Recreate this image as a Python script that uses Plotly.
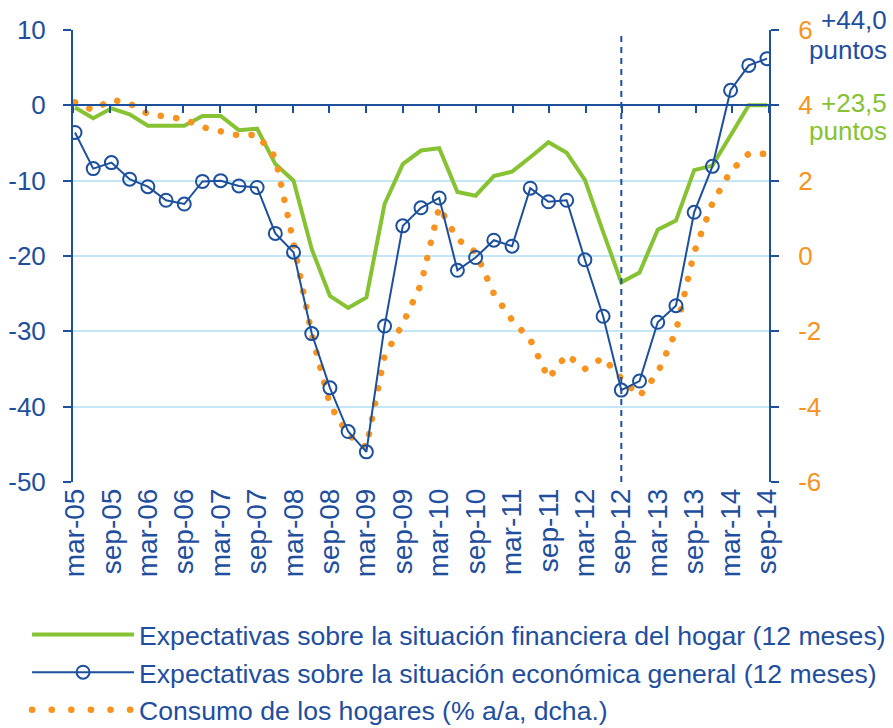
import plotly.graph_objects as go

quarters = [
    "mar-05", "jun-05", "sep-05", "dic-05", "mar-06", "jun-06", "sep-06", "dic-06",
    "mar-07", "jun-07", "sep-07", "dic-07", "mar-08", "jun-08", "sep-08", "dic-08",
    "mar-09", "jun-09", "sep-09", "dic-09", "mar-10", "jun-10", "sep-10", "dic-10",
    "mar-11", "jun-11", "sep-11", "dic-11", "mar-12", "jun-12", "sep-12", "dic-12",
    "mar-13", "jun-13", "sep-13", "dic-13", "mar-14", "jun-14", "sep-14",
]

financiera_hogar = [
    -0.3, -1.7, -0.4, -1.2, -2.7, -2.7, -2.7, -1.4, -1.4, -3.3,
    -3.1, -7.8, -10.0, -19.1, -25.3, -26.9, -25.5, -13.1, -7.8, -6.0,
    -5.7, -11.5, -12.0, -9.4, -8.8, -6.9, -4.9, -6.3, -9.9, -16.8,
    -23.5, -22.2, -16.5, -15.3, -8.6, -8.0, -4.1, 0.0, 0.0,
]

economica_general = [
    -3.6, -8.4, -7.6, -9.8, -10.8, -12.6, -13.1, -10.1, -10.0, -10.7,
    -10.9, -17.0, -19.5, -30.3, -37.5, -43.3, -46.0, -29.3, -16.0, -13.6,
    -12.3, -21.9, -20.2, -17.9, -18.7, -11.0, -12.8, -12.6, -20.5, -28.0,
    -37.8, -36.6, -28.8, -26.6, -14.2, -8.1, 2.0, 5.3, 6.2,
]

consumo_hogares = [
    4.08, 3.87, 4.15, 4.05, 3.77, 3.72, 3.63, 3.42, 3.30, 3.20,
    3.22, 2.62, 0.35, -2.08, -3.95, -4.75, -5.08, -2.65, -1.80, -0.75,
    1.30, 0.45, 0.10, -1.00, -1.70, -2.22, -3.25, -2.62, -3.00, -2.70,
    -3.25, -3.72, -3.10, -2.00, 0.10, 1.40, 2.25, 2.72, 2.71,
]

shown_labels = [q for q in quarters if q.startswith("mar") or q.startswith("sep")]
marker_quarter = "sep-12"

left_ticks = [10, 0, -10, -20, -30, -40, -50]
right_ticks = [6, 4, 2, 0, -2, -4, -6]

BLUE = "#1C4F9C"
TEXT = "#1F4E9E"
GREEN = "#86C232"
ORANGE = "#F7931E"
GRID = "#C4E7F7"
FONT = "Liberation Sans, Arial, sans-serif"

idx = list(range(len(quarters)))
x_lo, x_hi = -0.11, len(quarters) - 1 + 0.11
n_tick_int = 19
minor_ticks = [x_lo + k * (x_hi - x_lo) / n_tick_int for k in range(n_tick_int + 1)]

fig = go.Figure()
fig.add_trace(go.Scatter(
    x=idx, y=financiera_hogar, mode="lines",
    line=dict(color=GREEN, width=4),
    name="Expectativas sobre la situación financiera del hogar (12 meses)",
    xaxis="x", yaxis="y",
))
fig.add_trace(go.Scatter(
    x=idx, y=economica_general, mode="lines+markers",
    line=dict(color=BLUE, width=2),
    marker=dict(symbol="circle-open", size=13, color=BLUE, line=dict(width=2, color=BLUE)),
    name="Expectativas sobre la situación económica general (12 meses)",
    xaxis="x2", yaxis="y",
))
fig.add_trace(go.Scatter(
    x=idx, y=consumo_hogares, mode="lines",
    line=dict(color=ORANGE, width=6.5, dash="6px,9.5px"),
    name="Consumo de los hogares (% a/a, dcha.)",
    xaxis="x", yaxis="y2",
))

sep12 = quarters.index(marker_quarter)
fig.add_shape(type="line", xref="x", yref="y", x0=sep12, x1=sep12, y0=-50, y1=9.4,
              line=dict(color=BLUE, width=2, dash="6px,5px"))

fig.update_layout(
    width=893, height=728,
    margin=dict(l=73, r=124, t=30, b=246, pad=0, autoexpand=False),
    paper_bgcolor="white", plot_bgcolor="white",
    font=dict(family=FONT, color=TEXT, size=26),
    showlegend=True,
    legend=dict(
        x=-0.066, y=-0.285, xanchor="left", yanchor="top",
        font=dict(family=FONT, size=26.6, color=TEXT),
        bgcolor="rgba(0,0,0,0)", itemwidth=102, tracegroupgap=0,
    ),
    xaxis=dict(
        range=[x_lo, x_hi], tickmode="array",
        tickvals=[quarters.index(q) for q in shown_labels], ticktext=shown_labels,
        tickangle=-90, tickfont=dict(size=28, color=TEXT, family=FONT),
        showline=False, showgrid=False, zeroline=False, ticks="",
        ticklabelstandoff=0, automargin=False,
    ),
    xaxis2=dict(
        overlaying="x", anchor="free", position=50 / 60,
        range=[x_lo, x_hi], tickmode="array", tickvals=minor_ticks,
        ticks="outside", ticklen=7, tickwidth=2, tickcolor=BLUE,
        showticklabels=False, showline=True, linecolor=BLUE, linewidth=2,
        showgrid=False, zeroline=False, automargin=False,
    ),
    yaxis=dict(
        range=[-50, 10], tickmode="array", tickvals=left_ticks,
        ticktext=[str(v) for v in left_ticks],
        showgrid=True, gridcolor=GRID, gridwidth=2, zeroline=False,
        showline=True, linecolor=BLUE, linewidth=2,
        ticks="outside", ticklen=8, tickwidth=2, tickcolor=BLUE,
        tickfont=dict(size=26, color=TEXT, family=FONT), ticklabelstandoff=12,
        automargin=False,
    ),
    yaxis2=dict(
        overlaying="y", side="right", anchor="x",
        range=[-6, 6], tickmode="array", tickvals=right_ticks,
        ticktext=[str(v) for v in right_ticks],
        showgrid=False, zeroline=False,
        showline=True, linecolor=BLUE, linewidth=2,
        ticks="outside", ticklen=8, tickwidth=2, tickcolor=BLUE,
        tickfont=dict(size=26, color=ORANGE, family=FONT), ticklabelstandoff=14,
        automargin=False,
    ),
)

ann_x = (889 - 73) / 696
for text, color, ypix in [("+44,0", TEXT, 20), ("puntos", TEXT, 50),
                          ("+23,5", GREEN, 103), ("puntos", GREEN, 131)]:
    fig.add_annotation(text=text, xref="paper", yref="paper",
                       x=ann_x, y=(482 - ypix) / 452, showarrow=False,
                       xanchor="right", yanchor="middle",
                       font=dict(family=FONT, size=26, color=color))

post = """
(function(){
  document.body.style.margin = '0';
  document.body.style.padding = '0';
  document.body.style.overflow = 'hidden';
  var gd = document.getElementById('{plot_id}');
  function fix(){
    var paths = gd.querySelectorAll('path.js-line');
    paths.forEach(function(p){
      var s = p.getAttribute('style') || '';
      if (s.indexOf('rgb(247, 147, 30)') >= 0) {
        var inLegend = !!p.closest('.legend');
        p.style.strokeLinecap = 'round';
        p.style.strokeDasharray = inLegend ? '0.1px, 19.5px' : '0.1px, 15.5px';
      }
    });
  }
  fix();
  if (gd.on) gd.on('plotly_afterplot', fix);
  setTimeout(fix, 50);
})();
"""

fig.write_html("out.html", post_script=post, config={"displayModeBar": False})
